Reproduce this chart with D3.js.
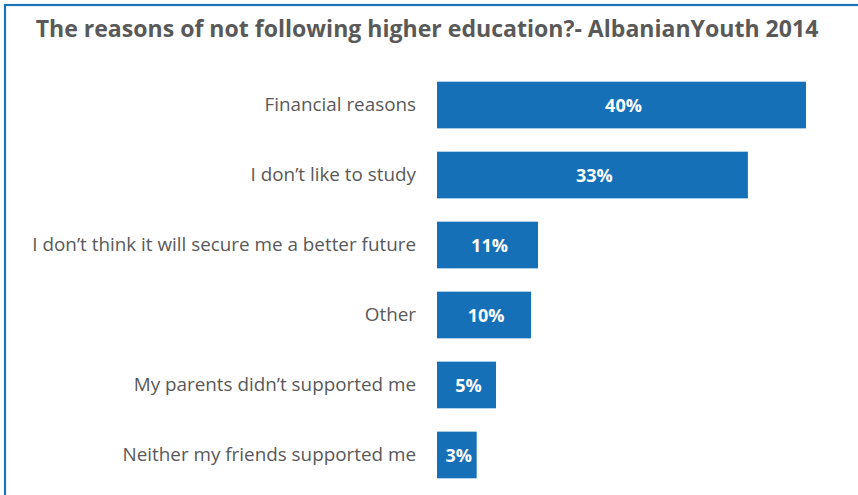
<!DOCTYPE html>
<html><head><meta charset="utf-8">
<script src="https://cdn.jsdelivr.net/npm/d3@7"></script>
<style>html,body{margin:0;padding:0;background:#fff;}svg{display:block;}</style>
</head><body>
<svg id="c" width="858" height="495"></svg>
<script>
const categories = ["Financial reasons","I don’t like to study","I don’t think it will secure me a better future","Other","My parents didn’t supported me","Neither my friends supported me"];
const values = [40, 33.7, 10.95, 10.2, 6.4, 4.3];
const valueLabels = ["40%","33%","11%","10%","5%","3%"];
const title = "The reasons of not following higher education?- AlbanianYouth 2014";

const svg = d3.select("#c");
const W = 858, H = 495;
const font = "'Open Sans', sans-serif";

svg.append("rect").attr("x",5).attr("y",5).attr("width",W+10).attr("height",H+10)
  .attr("fill","none").attr("stroke","#1a73bb").attr("stroke-width",2.2);

const t = svg.append("text").attr("x",427).attr("y",37).attr("text-anchor","middle")
  .attr("font-family",font).attr("font-weight","bold").attr("font-size",20)
  .attr("fill","#595959").text(title);
// fit title width to reference (~783px)
const tw = t.node().getComputedTextLength();
t.attr("font-size", Math.min(24, 20*783/tw));

const x = d3.scaleLinear().domain([0,40]).range([437,806]);
const y = d3.scaleBand().domain(categories).range([70,490]).paddingInner(0.333).paddingOuter(0.167);

const yAxis = d3.axisLeft(y).tickSize(0).tickPadding(0);
const g = svg.append("g").attr("transform","translate(416,0)").call(yAxis);
g.select(".domain").remove();
g.selectAll("text").attr("font-family",font).attr("font-size",17).attr("fill","#595959").attr("dy","0.3em");
// fit longest label (~384px)
let maxw = 0; g.selectAll("text").each(function(){maxw=Math.max(maxw,this.getComputedTextLength());});
const ls = Math.min(19, 17*384/maxw);
g.selectAll("text").attr("font-size", ls);

svg.selectAll("rect.bar").data(categories).enter().append("rect").attr("class","bar")
  .attr("x",x(0)).attr("y",d=>y(d)).attr("height",y.bandwidth())
  .attr("width",(d,i)=>x(values[i])-x(0)).attr("fill","#1570b8");

svg.selectAll("text.val").data(categories).enter().append("text").attr("class","val")
  .attr("x",(d,i)=>(x(0)+x(values[i]))/2+2).attr("y",d=>y(d)+y.bandwidth()/2).attr("dy","0.38em")
  .attr("text-anchor","middle").attr("font-family",font).attr("font-weight","bold")
  .attr("font-size",18).attr("fill","#ffffff").text((d,i)=>valueLabels[i]);
</script>
</body></html>
